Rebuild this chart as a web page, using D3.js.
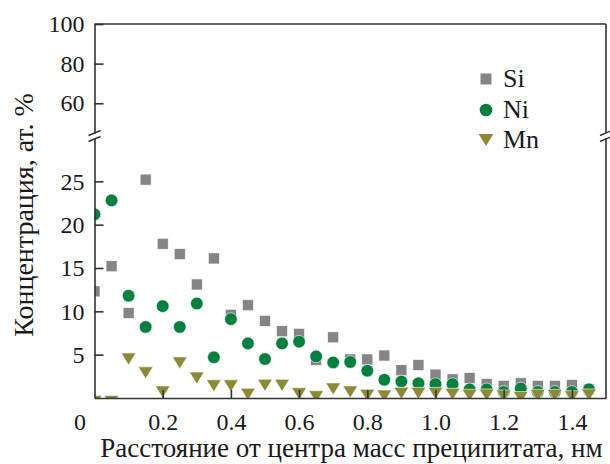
<!DOCTYPE html>
<html><head><meta charset="utf-8">
<script src="https://cdn.jsdelivr.net/npm/d3@7"></script>
<style>
body{margin:0;background:#fff}
svg{display:block}
</style>
</head><body>
<svg id="c" width="610" height="464"></svg>
<script>
// ---- data ----
const distance = [0,0.05,0.1,0.15,0.2,0.25,0.3,0.35,0.4,0.45,0.5,0.55,0.6,0.65,0.7,0.75,0.8,0.85,0.9,0.95,1.0,1.05,1.1,1.15,1.2,1.25,1.3,1.35,1.4,1.45];
const si = [12.3,15.2,9.8,25.2,17.8,16.6,13.1,16.1,9.6,10.7,8.9,7.7,7.4,4.4,7.0,4.45,4.45,4.9,3.2,3.8,2.7,2.15,2.3,1.6,1.4,1.7,1.4,1.4,1.5,1.0];
const ni = [21.2,22.8,11.8,8.2,10.6,8.2,10.9,4.7,9.1,6.3,4.5,6.3,6.5,4.8,4.1,4.15,3.15,2.1,1.9,1.7,1.6,1.6,1.0,1.0,0.7,1.1,0.7,0.7,0.7,1.0];
const mn = [-0.4,-0.4,4.5,2.9,0.7,4.05,2.3,1.4,1.4,0.42,1.46,1.46,0.5,0.15,1.05,0.7,0.31,0.23,0.54,0.54,0.54,0.43,0.31,0.35,0.23,0.05,0.3,0.3,0.15,0.35];
const seriesNames = ["Si","Ni","Mn"];
const xTicks = [0,0.2,0.4,0.6,0.8,1.0,1.2,1.4];
const xTickLabels = ["0","0.2","0.4","0.6","0.8","1.0","1.2","1.4"];
const yTicksLower = [5,10,15,20,25];
const yTicksUpper = [60,80,100];
const xDomain = [0,1.5];
const yLowerDomain = [0,30];
const yUpperDomain = [45,100];
const xTitle = "Расстояние от центра масс преципитата, нм";
const yTitle = "Концентрация, ат. %";

// ---- pick an installed serif font ----
const svg = d3.select("#c");
function pickFont(){
  const cands = ["Liberation Serif","Times New Roman","Tinos","Noto Serif","DejaVu Serif","Nimbus Roman","FreeSerif","Times"];
  const probe = svg.append("text").attr("font-size",40).text("Концентрация 0.2 Mn Si");
  probe.attr("font-family","monospace");
  const base = probe.node().getComputedTextLength();
  let found = "serif";
  for (const c of cands){
    probe.attr("font-family", `"${c}", monospace`);
    if (Math.abs(probe.node().getComputedTextLength() - base) > 0.5){ found = `"${c}", serif`; break; }
  }
  probe.remove();
  return found;
}
const FONT = pickFont();

// ---- layout ----
const L = 94.5, R = 606, T = 24, B = 398, breakTop = 133, breakBot = 138;
const colors = {Si:"#858585", Ni:"#00803f", Mn:"#8c8a36"};
const axisColor = "#333";

const x = d3.scaleLinear().domain(xDomain).range([L, R]);
const yLo = d3.scaleLinear().domain(yLowerDomain).range([B, breakBot]);
const yUp = d3.scaleLinear().domain(yUpperDomain).range([breakTop, T]);

function styleAxis(g){
  g.attr("font-family", FONT).attr("font-size", 24);
  g.select(".domain").attr("stroke", axisColor).attr("stroke-width", 1.6);
  g.selectAll(".tick line").attr("stroke", axisColor).attr("stroke-width", 1.6);
  g.selectAll(".tick text").attr("font-size", 24).attr("fill", "#1a1a1a").attr("font-family", FONT);
}

// clip for markers
svg.append("defs").append("clipPath").attr("id","plotclip")
  .append("rect").attr("x", L).attr("y", breakBot).attr("width", R - L).attr("height", B - breakBot);

// markers
const pts = distance.map((d,i)=>({x:d, si:si[i], ni:ni[i], mn:mn[i]}));
const mg = svg.append("g").attr("clip-path","url(#plotclip)");
const sq = 11, cr = 6.3, tw = 7.4, th = 6;
mg.selectAll("rect.si").data(pts).join("rect").attr("class","si")
  .attr("x", d=>x(d.x)-sq/2).attr("y", d=>yLo(d.si)-sq/2)
  .attr("width", sq).attr("height", sq)
  .attr("fill", colors.Si).attr("stroke","#fff").attr("stroke-width",0.6);
mg.selectAll("circle.ni").data(pts).join("circle").attr("class","ni")
  .attr("cx", d=>x(d.x)).attr("cy", d=>yLo(d.ni)).attr("r", cr)
  .attr("fill", colors.Ni).attr("stroke","#fff").attr("stroke-width",0.6);
const tri = `M${-tw},${-th}L${tw},${-th}L0,${th}Z`;
mg.selectAll("path.mn").data(pts).join("path").attr("class","mn")
  .attr("d", tri).attr("transform", d=>`translate(${x(d.x)},${yLo(d.mn)})`)
  .attr("fill", colors.Mn).attr("stroke","#fff").attr("stroke-width",0.6);

// axes
const gx = svg.append("g").attr("transform",`translate(0,${B})`)
  .call(d3.axisBottom(x).tickValues(xTicks).tickFormat((d,i)=>xTickLabels[i])
    .tickSize(-8).tickSizeOuter(0).tickPadding(15));
styleAxis(gx);
gx.selectAll(".tick").filter(d=>d===0).select("line").remove();
gx.selectAll(".tick").filter(d=>d===0).select("text").attr("dx", -15);

const gyl = svg.append("g").attr("transform",`translate(${L},0)`)
  .call(d3.axisLeft(yLo).tickValues(yTicksLower).tickSize(-9).tickSizeOuter(0).tickPadding(10));
styleAxis(gyl);
const gyu = svg.append("g").attr("transform",`translate(${L},0)`)
  .call(d3.axisLeft(yUp).tickValues(yTicksUpper).tickSize(-9).tickSizeOuter(0).tickPadding(10));
styleAxis(gyu);

// frame top and right
svg.append("line").attr("x1",L).attr("x2",R).attr("y1",T).attr("y2",T)
  .attr("stroke",axisColor).attr("stroke-width",1.6);
svg.append("line").attr("x1",R).attr("x2",R).attr("y1",T).attr("y2",breakTop)
  .attr("stroke",axisColor).attr("stroke-width",1.6);
svg.append("line").attr("x1",R).attr("x2",R).attr("y1",breakBot).attr("y2",B)
  .attr("stroke",axisColor).attr("stroke-width",1.6);

// break marks
[L, R].forEach(ax=>{
  [breakTop, breakBot+1].forEach(yy=>{
    svg.append("line").attr("x1",ax-6).attr("x2",ax+6).attr("y1",yy+2.5).attr("y2",yy-2.5)
      .attr("stroke",axisColor).attr("stroke-width",1.4);
  });
});

// legend
const lg = svg.append("g");
const legX = 486, legY = [79,110,140];
lg.append("rect").attr("x",legX-sq/2).attr("y",legY[0]-sq/2).attr("width",sq).attr("height",sq).attr("fill",colors.Si);
lg.append("circle").attr("cx",legX).attr("cy",legY[1]).attr("r",cr).attr("fill",colors.Ni);
lg.append("path").attr("d",tri).attr("transform",`translate(${legX},${legY[2]})`).attr("fill",colors.Mn);
seriesNames.forEach((n,i)=>{
  lg.append("text").attr("x",503).attr("y",legY[i]+8).attr("font-size",26)
    .attr("font-family",FONT).attr("fill","#1a1a1a").text(n);
});

// axis titles, fitted to the reference's extents
const xt = svg.append("text").attr("x",351.5).attr("y",457).attr("text-anchor","middle")
  .attr("font-family",FONT).attr("fill","#1a1a1a").attr("font-size",24).text(xTitle);
let w = xt.node().getComputedTextLength();
xt.attr("font-size", Math.min(27, 24*519/w));
const yt = svg.append("text").attr("transform","translate(33,215) rotate(-90)")
  .attr("text-anchor","middle").attr("font-family",FONT).attr("fill","#1a1a1a").attr("font-size",24).text(yTitle);
w = yt.node().getComputedTextLength();
yt.attr("font-size", Math.min(28, 24*254/w));
</script>
</body></html>
